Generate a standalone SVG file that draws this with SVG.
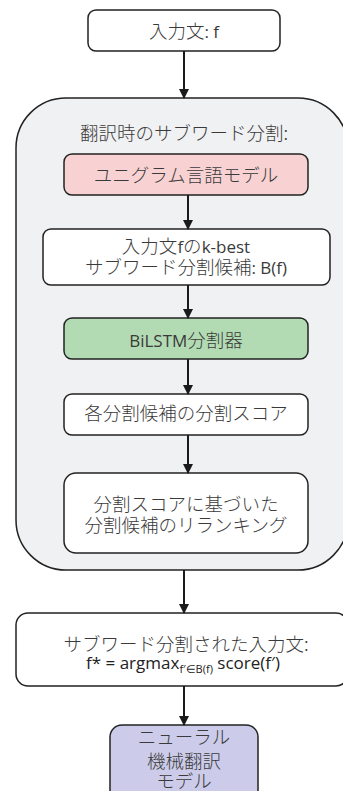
<svg xmlns="http://www.w3.org/2000/svg" width="343" height="791" viewBox="0 0 343 791">
<defs>
<marker id="ah" markerWidth="10" markerHeight="10" refX="9" refY="5" orient="auto" markerUnits="userSpaceOnUse">
<path d="M0,0 L10,5 L0,10 Z" fill="#1a1a1a"/>
</marker>
<style>
.box{stroke:#222;stroke-width:1.5}
.jp{font-family:"Noto Sans CJK JP","Noto Sans",sans-serif;font-weight:300;font-size:18.5px;fill:#3a3a3a;text-anchor:middle}
.lat{font-family:"Open Sans","Noto Sans",sans-serif;font-weight:400;font-size:17px}
.conn{stroke:#1a1a1a;stroke-width:2;fill:none;marker-end:url(#ah)}
</style>
</defs>
<rect width="343" height="791" fill="#ffffff"/>
<g id="input">
<rect class="box" x="88" y="10" width="192" height="41" rx="8" fill="#ffffff"/>
<text class="jp" x="184" y="37.5">入力文<tspan class="lat">: f</tspan></text>
</g>
<g id="container">
<rect class="box" x="16" y="98" width="332" height="472" rx="50" fill="#f0f1f3"/>
<text class="jp" x="184" y="139.5">翻訳時のサブワード分割:</text>
</g>
<g id="unigram">
<rect class="box" x="64" y="154" width="244" height="41" rx="8" fill="#f8d2d3"/>
<text class="jp" x="186" y="181.5">ユニグラム言語モデル</text>
</g>
<g id="kbest">
<rect class="box" x="43" y="229" width="287" height="56" rx="8" fill="#ffffff"/>
<text class="jp" x="186" y="253">入力文<tspan class="lat">f</tspan>の<tspan class="lat">k-best</tspan></text>
<text class="jp" x="186" y="274">サブワード分割候補<tspan class="lat">: B(f)</tspan></text>
</g>
<g id="bilstm">
<rect class="box" x="64" y="318" width="244" height="41" rx="8" fill="#b3dbb3"/>
<text class="jp" x="186" y="346.5"><tspan class="lat">BiLSTM</tspan>分割器</text>
</g>
<g id="score">
<rect class="box" x="64" y="394" width="244" height="41" rx="8" fill="#ffffff"/>
<text class="jp" x="186" y="420">各分割候補の分割スコア</text>
</g>
<g id="rerank">
<rect class="box" x="64" y="473" width="244" height="80" rx="12" fill="#ffffff"/>
<text class="jp" x="186" y="510.5">分割スコアに基づいた</text>
<text class="jp" x="186" y="531.5">分割候補のリランキング</text>
</g>
<g id="output">
<rect class="box" x="16" y="613" width="332" height="73" rx="12" fill="#ffffff"/>
<text class="jp" x="186" y="651">サブワード分割された入力文:</text>
<text class="lat" x="183" y="669" fill="#222" text-anchor="middle">f* = argmax<tspan font-size="11" dy="4">f′∈B(f)</tspan><tspan dy="-4"> score(f′)</tspan></text>
</g>
<g id="nmt">
<rect class="box" x="110" y="725" width="148" height="80" rx="12" fill="#ccccea"/>
<text class="jp" x="184" y="744">ニューラル</text>
<text class="jp" x="184" y="768">機械翻訳</text>
<text class="jp" x="184" y="788">モデル</text>
</g>
<g id="connectors">
<line class="conn" x1="184" y1="51" x2="184" y2="98"/>
<line class="conn" x1="188" y1="195" x2="188" y2="229"/>
<line class="conn" x1="188" y1="285" x2="188" y2="318"/>
<line class="conn" x1="188" y1="359" x2="188" y2="394"/>
<line class="conn" x1="188" y1="435" x2="188" y2="473"/>
<line class="conn" x1="184" y1="570" x2="184" y2="613"/>
<line class="conn" x1="184" y1="686" x2="184" y2="725"/>
</g>
</svg>
